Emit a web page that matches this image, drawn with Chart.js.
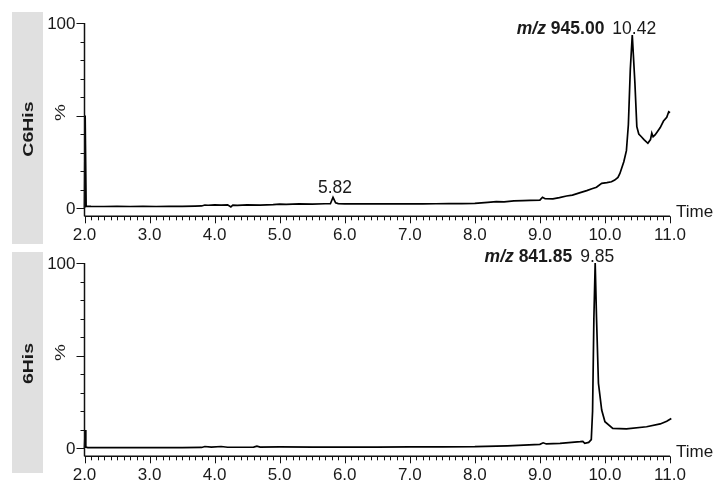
<!DOCTYPE html>
<html>
<head>
<meta charset="utf-8">
<script src="https://cdn.jsdelivr.net/npm/chart.js@4.4.1/dist/chart.umd.min.js"></script>
<style>
  html, body { margin: 0; padding: 0; background: #fff; }
  #wrap { position: relative; width: 717px; height: 483px; }
  #wrap canvas { position: absolute; left: 0; top: 0; }
</style>
</head>
<body>
<div id="wrap">
  <canvas id="topChart" width="717" height="483"></canvas>
  <canvas id="bottomChart" width="717" height="483"></canvas>
</div>
<script>
/* === DATA === */
const X_TICK_LABELS = ["2.0", "3.0", "4.0", "5.0", "6.0", "7.0", "8.0", "9.0", "10.0", "11.0"];
const Y_TICK_LABELS = ["0", "100"];

// C6His, m/z 945.00 (time in min, intensity in %)
const c6hisTime = [
    2.00, 2.01, 2.025, 2.1, 2.3, 2.5, 2.7, 2.9, 3.1, 3.3, 3.5, 3.7, 3.8, 3.85, 3.9, 4.0, 4.1, 4.2,
    4.25, 4.28, 4.35, 4.5, 4.7, 4.9, 5.0, 5.1, 5.3, 5.5, 5.7, 5.78, 5.82, 5.86, 5.9, 6.0, 6.2,
    6.4, 6.6, 6.8, 7.0, 7.2, 7.4, 7.6, 7.8, 8.0, 8.2, 8.33, 8.45, 8.6, 8.74, 8.85, 9.0, 9.04,
    9.08, 9.2, 9.3, 9.41, 9.5, 9.62, 9.72, 9.8, 9.87, 9.95, 10.03, 10.1, 10.15, 10.2, 10.23,
    10.29, 10.33, 10.36, 10.39, 10.42, 10.46, 10.49, 10.52, 10.56, 10.6, 10.66, 10.7, 10.72,
    10.74, 10.77, 10.8, 10.85, 10.9, 10.95, 10.98, 11.0, 11.02
];
const c6hisPct = [
    0, 50, 1.0, 0.9, 0.8, 0.9, 0.8, 0.9, 0.8, 0.9, 0.9, 1.0, 1.1, 1.6, 1.5, 1.7, 1.6, 1.7,
    0.6, 1.5, 1.4, 1.7, 1.6, 1.8, 2.1, 2.0, 2.2, 2.1, 2.3, 2.3, 5.8, 2.8, 2.4, 2.2, 2.3,
    2.2, 2.3, 2.2, 2.3, 2.2, 2.3, 2.4, 2.4, 2.5, 3.0, 3.4, 3.3, 3.8, 4.0, 4.1, 4.3, 5.8,
    5.0, 4.9, 5.6, 6.5, 7.0, 8.3, 9.4, 10.4, 11.2, 13.3, 13.7, 14.2, 15.1, 16.5, 18.7,
    25, 31, 45, 75, 93.5, 68, 44, 40, 38.5, 37, 35, 37, 40.5,
    38.5, 39.5, 41, 43.5, 47, 49, 52, 51.5, 54
];

// 6His, m/z 841.85
const his6Time = [
    2.00, 2.01, 2.02, 2.05, 2.5, 3.0, 3.5, 3.8, 3.85, 3.95, 4.1, 4.2, 4.6, 4.65, 4.7, 5.0,
    5.5, 6.0, 6.5, 7.0, 7.5, 8.0, 8.5, 9.0, 9.05, 9.1, 9.31, 9.62, 9.66, 9.69, 9.75, 9.79,
    9.81, 9.83, 9.85, 9.87, 9.9, 9.95, 10.0, 10.12, 10.33, 10.64, 10.85, 10.95, 11.02
];
const his6Pct = [
    0, 9.7, 0.5, 0.2, 0.2, 0.2, 0.2, 0.3, 0.8, 0.5, 0.8, 0.4, 0.5, 1.0, 0.5, 0.6,
    0.5, 0.5, 0.5, 0.6, 0.6, 0.7, 1.2, 2.0, 2.8, 2.2, 2.5, 3.4, 3.6, 2.5, 3.0, 4.5,
    20, 70, 100, 71, 35, 20.5, 14.2, 10.6, 10.3, 11.5, 13, 14.5, 16
];

/* === PLUGINS === */
const TEXT = "#1a1a1a";
const FONT = "Liberation Sans, Arial, sans-serif";

// rotated text, stretched along its own direction like the original export
function drawRotated(ctx, text, x, y, font, stretch) {
    ctx.save();
    ctx.translate(x, y);
    ctx.rotate(-Math.PI / 2);
    ctx.scale(stretch, 1);
    ctx.font = font;
    ctx.textAlign = "center";
    ctx.textBaseline = "middle";
    ctx.fillText(text, 0, 0);
    ctx.restore();
}

// gray side label, axes with major/minor ticks, tick labels
const msAxes = {
    id: "msAxes",
    afterDraw(chart, args, opts) {
        const ctx = chart.ctx;
        const xs = chart.scales.x;
        const ys = chart.scales.y;
        const area = chart.chartArea;
        ctx.save();

        // side label
        ctx.fillStyle = "#e0e0e0";
        ctx.fillRect(12, opts.barTop, 31, opts.barBottom - opts.barTop);
        ctx.fillStyle = TEXT;
        drawRotated(ctx, opts.name, 29, (opts.barTop + opts.barBottom) / 2 + 1, "bold 15px " + FONT, 1.3);

        ctx.strokeStyle = "#111";
        ctx.lineWidth = 1.5;
        const x0 = xs.getPixelForValue(2.0);
        const yTop = ys.getPixelForValue(100);

        // y axis
        ctx.beginPath();
        ctx.moveTo(x0, yTop);
        ctx.lineTo(x0, area.bottom);
        ctx.stroke();
        ctx.lineWidth = 1;
        for (let v = 0; v <= 100; v += 10) {
            const y = Math.round(ys.getPixelForValue(v)) + 0.5;
            const len = (v % 50 === 0) ? 8 : 4;
            ctx.beginPath();
            ctx.moveTo(x0 - len, y);
            ctx.lineTo(x0, y);
            ctx.stroke();
        }
        ctx.font = "17px " + FONT;
        ctx.textAlign = "right";
        ctx.textBaseline = "middle";
        Y_TICK_LABELS.forEach(t => ctx.fillText(t, x0 - 9, ys.getPixelForValue(Number(t)) + 1));
        drawRotated(ctx, "%", 61, ys.getPixelForValue(50) - 3, "14px " + FONT, 1.35);

        // x axis
        const yb = area.bottom;
        ctx.lineWidth = 1.5;
        ctx.beginPath();
        ctx.moveTo(x0, yb);
        ctx.lineTo(xs.getPixelForValue(11.0), yb);
        ctx.stroke();
        ctx.lineWidth = 1;
        for (let i = 0; i <= 90; i++) {
            const x = Math.round(xs.getPixelForValue(2 + i / 10)) + 0.5;
            const len = (i % 10 === 0) ? 7 : 4;
            ctx.beginPath();
            ctx.moveTo(x, yb);
            ctx.lineTo(x, yb + len);
            ctx.stroke();
        }
        ctx.font = "17px " + FONT;
        ctx.textAlign = "center";
        ctx.textBaseline = "alphabetic";
        X_TICK_LABELS.forEach(t => ctx.fillText(t, xs.getPixelForValue(Number(t)), yb + 23.5));
        ctx.textAlign = "left";
        ctx.fillText("Time", xs.getPixelForValue(11.0) + 6, yb + 1);

        ctx.restore();
    }
};

// peak labels: "m/z xxx" title + retention time at the apex
const peakLabels = {
    id: "peakLabels",
    afterDraw(chart, args, opts) {
        const ctx = chart.ctx;
        const xs = chart.scales.x;
        const ys = chart.scales.y;
        ctx.save();
        ctx.fillStyle = TEXT;
        ctx.textBaseline = "alphabetic";
        opts.peaks.forEach(p => {
            const px = xs.getPixelForValue(p.time) + 2;
            const py = ys.getPixelForValue(p.pct) - (p.title ? 1 : 4);
            ctx.font = "17.5px " + FONT;
            ctx.textAlign = "center";
            ctx.fillText(p.time.toFixed(2), px, py);
            if (p.title) {
                const w = ctx.measureText(p.time.toFixed(2)).width;
                let right = px - w / 2 - 8;
                ctx.textAlign = "right";
                ctx.font = "bold 17.5px " + FONT;
                ctx.fillText(p.title, right, py);
                right -= ctx.measureText(p.title).width;
                ctx.font = "italic bold 17.5px " + FONT;
                ctx.fillText("m/z ", right, py);
            }
        });
        ctx.restore();
    }
};

function makeChart(canvasId, times, pcts, cfg) {
    return new Chart(document.getElementById(canvasId), {
        type: "line",
        data: {
            datasets: [{
                data: times.map((t, i) => ({ x: t, y: pcts[i] })),
                borderColor: "#000",
                borderWidth: 1.7,
                pointRadius: 0,
                tension: 0,
                fill: false,
                clip: false
            }]
        },
        options: {
            responsive: false,
            animation: false,
            devicePixelRatio: 1,
            layout: { padding: { left: 84.5, right: 47, top: cfg.top, bottom: 483 - (cfg.top + 104.5 * 1.85) } },
            scales: {
                x: { type: "linear", min: 2.0, max: 11.0, display: false },
                y: { type: "linear", min: -4.5, max: 100, display: false }
            },
            plugins: {
                legend: { display: false },
                tooltip: { enabled: false },
                msAxes: { name: cfg.name, barTop: cfg.barTop, barBottom: cfg.barBottom },
                peakLabels: { peaks: cfg.peaks }
            }
        },
        plugins: [msAxes, peakLabels]
    });
}

makeChart("topChart", c6hisTime, c6hisPct, {
    name: "C6His", top: 23, barTop: 12, barBottom: 244,
    peaks: [
        { time: 10.42, pct: 93.5, title: "945.00" },
        { time: 5.82, pct: 5.8 }
    ]
});

makeChart("bottomChart", his6Time, his6Pct, {
    name: "6His", top: 263, barTop: 252, barBottom: 473,
    peaks: [
        { time: 9.85, pct: 100, title: "841.85" }
    ]
});
</script>
</body>
</html>
